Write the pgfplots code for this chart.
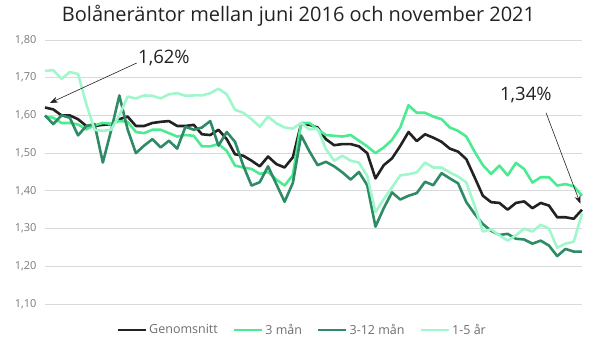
\documentclass[border=0pt]{standalone}
\usepackage{fontspec}
\setmainfont{Open Sans}
\usepackage{pgfplots}
\pgfplotsset{compat=1.18}
\usepackage{pgfplotstable}
\usetikzlibrary{arrows.meta}
\definecolor{cavg}{HTML}{222222}
\definecolor{cmthree}{HTML}{4DEB91}
\definecolor{cmtwelve}{HTML}{2E8B66}
\definecolor{cyfive}{HTML}{A0F7CB}
\definecolor{gridc}{HTML}{DADADA}
\definecolor{tickc}{HTML}{7A7A7A}
\definecolor{legc}{HTML}{6E6E6E}

\pgfplotstableread{
i avg m3 m312 y15
0 1.621 1.597 1.600 1.718
1 1.616 1.594 1.577 1.720
2 1.600 1.580 1.600 1.697
3 1.600 1.580 1.594 1.715
4 1.590 1.576 1.547 1.710
5 1.572 1.563 1.572 1.630
6 1.572 1.574 1.577 1.562
7 1.575 1.580 1.475 1.559
8 1.577 1.578 1.560 1.562
9 1.590 1.585 1.653 1.600
10 1.597 1.583 1.563 1.650
11 1.572 1.556 1.500 1.645
12 1.572 1.553 1.520 1.653
13 1.580 1.562 1.537 1.652
14 1.583 1.562 1.515 1.645
15 1.585 1.553 1.533 1.656
16 1.572 1.544 1.512 1.659
17 1.572 1.548 1.570 1.652
18 1.575 1.546 1.562 1.653
19 1.550 1.518 1.568 1.653
20 1.548 1.518 1.585 1.659
21 1.562 1.524 1.520 1.671
22 1.537 1.506 1.556 1.656
23 1.497 1.467 1.530 1.615
24 1.493 1.462 1.467 1.607
25 1.480 1.458 1.414 1.590
26 1.465 1.445 1.423 1.570
27 1.491 1.450 1.465 1.597
28 1.471 1.430 1.418 1.579
29 1.462 1.414 1.371 1.568
30 1.489 1.442 1.421 1.565
31 1.577 1.580 1.547 1.580
32 1.575 1.580 1.505 1.563
33 1.568 1.563 1.468 1.565
34 1.537 1.548 1.477 1.511
35 1.521 1.546 1.465 1.480
36 1.524 1.544 1.449 1.493
37 1.524 1.548 1.430 1.480
38 1.518 1.533 1.450 1.475
39 1.500 1.518 1.415 1.440
40 1.433 1.500 1.305 1.343
41 1.468 1.515 1.354 1.378
42 1.486 1.535 1.396 1.409
43 1.519 1.568 1.377 1.441
44 1.556 1.627 1.387 1.444
45 1.532 1.607 1.394 1.449
46 1.550 1.607 1.424 1.475
47 1.541 1.597 1.415 1.462
48 1.530 1.590 1.447 1.462
49 1.512 1.568 1.433 1.449
50 1.504 1.559 1.420 1.438
51 1.484 1.544 1.370 1.422
52 1.436 1.504 1.339 1.361
53 1.387 1.468 1.312 1.292
54 1.370 1.445 1.294 1.298
55 1.368 1.467 1.283 1.282
56 1.350 1.441 1.286 1.268
57 1.368 1.474 1.273 1.282
58 1.372 1.458 1.271 1.300
59 1.354 1.422 1.260 1.292
60 1.368 1.436 1.268 1.310
61 1.361 1.436 1.255 1.300
62 1.330 1.414 1.227 1.249
63 1.330 1.418 1.246 1.260
64 1.326 1.412 1.239 1.265
65 1.350 1.387 1.239 1.340
}\datatable

\begin{document}
\begin{tikzpicture}[x=1pt,y=1pt]
\useasboundingbox (0,0) rectangle (597,352);
\node[text=cavg] at (298.5,336) {\fontsize{20}{24}\selectfont Bolåneräntor mellan juni 2016 och november 2021};
\begin{axis}[
  at={(45pt,48pt)}, anchor=south west,
  scale only axis, width=537pt, height=264pt,
  xmin=0, xmax=65, ymin=1.1, ymax=1.8,
  xtick=\empty,
  ytick={1.1,1.2,1.3,1.4,1.5,1.6,1.7,1.8},
  axis line style={draw=none},
  major tick length=0pt,
  ymajorgrids,
  grid style={gridc, line width=0.9pt},
  yticklabel style={font=\fontsize{11}{13}\selectfont, text=tickc, xshift=-5pt},
  /pgf/number format/.cd, fixed, fixed zerofill, precision=2, use comma, assume math mode=true,
  /pgfplots/.cd,
  legend columns=4,
  legend style={draw=none, fill=none, at={(0.479,-0.098)}, anchor=center,
    font=\fontsize{12.5}{14}\selectfont, text=legc,
    /tikz/every even column/.append style={column sep=13pt},
    inner sep=0pt},
  legend image code/.code={\draw[#1] (0pt,0pt) -- (28pt,0pt);},
  every axis plot/.append style={line width=2.6pt, line join=round},
  clip=false,
]
\addplot[cavg] table[x=i, y=avg] {\datatable};
\addlegendentry{Genomsnitt}
\addplot[cmthree] table[x=i, y=m3] {\datatable};
\addlegendentry{3 mån}
\addplot[cmtwelve] table[x=i, y=m312] {\datatable};
\addlegendentry{3-12 mån}
\addplot[cyfive] table[x=i, y=y15] {\datatable};
\addlegendentry{1-5 år}
\draw[-{Stealth[length=8pt,width=6pt]}, line width=0.6pt, color=cavg] (axis cs:11.1,1.739) -- (axis cs:0.6,1.633);
\node[text=cavg, font=\fontsize{18.5}{22}\selectfont] at (axis cs:14.4,1.752) {1,62\%};
\draw[-{Stealth[length=8pt,width=6pt]}, line width=0.6pt, color=cavg] (axis cs:60.65,1.607) -- (axis cs:64.8,1.366);
\node[text=cavg, font=\fontsize{18.5}{22}\selectfont] at (axis cs:58.2,1.654) {1,34\%};
\end{axis}
\end{tikzpicture}
\end{document}
